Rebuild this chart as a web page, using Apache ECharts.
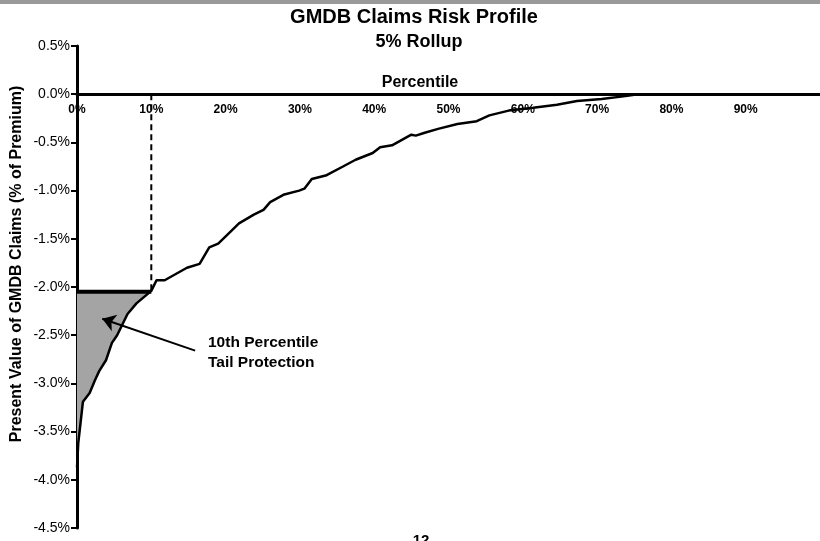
<!DOCTYPE html>
<html>
<head>
<meta charset="utf-8">
<script src="https://cdn.jsdelivr.net/npm/echarts@6/dist/echarts.min.js"></script>
<style>
html,body{margin:0;padding:0;background:#fff;}
#chart{width:820px;height:541px;}
</style>
</head>
<body>
<div id="chart"></div>
<script>
// Percentile (x, %) and present value of GMDB claims (y, % of premium)
const percentiles = [0, 0.17, 0.8, 1.7, 2.4, 3.0, 3.9, 4.7, 5.4, 6.8, 8.0, 10.0, 10.7, 11.8, 14.8, 16.5, 17.8, 19.0, 20.6, 21.8, 23.8, 25.1, 26.0, 27.9, 29.9, 30.6, 31.6, 33.6, 35.8, 37.5, 39.8, 40.8, 42.4, 45.0, 45.6, 46.8, 48.6, 51.2, 53.8, 55.5, 58.1, 61.4, 64.6, 67.3, 70.6, 73.8, 75.5, 80, 90, 100];
const claims = [-3.87, -3.62, -3.19, -3.10, -2.97, -2.87, -2.76, -2.58, -2.50, -2.28, -2.17, -2.04, -1.93, -1.93, -1.80, -1.76, -1.59, -1.55, -1.43, -1.34, -1.25, -1.20, -1.12, -1.04, -1.00, -0.98, -0.88, -0.84, -0.75, -0.68, -0.61, -0.55, -0.53, -0.42, -0.43, -0.40, -0.36, -0.31, -0.28, -0.22, -0.17, -0.14, -0.11, -0.07, -0.05, -0.02, 0, 0, 0, 0];
const xTicks = [0, 10, 20, 30, 40, 50, 60, 70, 80, 90];
const yTicks = [0.5, 0.0, -0.5, -1.0, -1.5, -2.0, -2.5, -3.0, -3.5, -4.0, -4.5];
const tailPercentile = 10;
const tailLevel = -2.05;
// Arrow annotation endpoints (percentile, value)
const arrowFrom = [15.9, -2.66];
const arrowTo = [3.4, -2.33];

const curve = percentiles.map((p, i) => [p, claims[i]]);
const tail = curve.filter(d => d[0] <= tailPercentile);

const chart = echarts.init(document.getElementById('chart'), null, {renderer: 'canvas'});
const FONT = 'Liberation Sans, Arial, Helvetica, sans-serif';
const GRID_TOP = 46, GRID_H = 482;
// x axis sits at value 0: offset from the grid top (0.5 .. -4.5 range)
const X_OFFSET = -GRID_H * (0.5 - 0) / (0.5 - (-4.5));

chart.setOption({
  animation: false,
  backgroundColor: '#ffffff',
  textStyle: {fontFamily: FONT},
  graphic: [
    {type: 'rect', left: 0, top: 0, shape: {width: 820, height: 4}, style: {fill: '#9a9a9a'}},
    {type: 'text', x: 414, y: 17, style: {text: 'GMDB Claims Risk Profile', font: 'bold 20px ' + FONT, fill: '#000', align: 'center', verticalAlign: 'middle'}},
    {type: 'text', x: 419, y: 42, style: {text: '5% Rollup', font: 'bold 18px ' + FONT, fill: '#000', align: 'center', verticalAlign: 'middle'}},
    {type: 'text', x: 420, y: 83, style: {text: 'Percentile', font: 'bold 16px ' + FONT, fill: '#000', align: 'center', verticalAlign: 'middle'}},
    {type: 'text', x: 17, y: 264, rotation: Math.PI / 2, style: {text: 'Present Value of GMDB Claims (% of Premium)', font: 'bold 16px ' + FONT, fill: '#000', align: 'center', verticalAlign: 'middle'}},
    {type: 'text', x: 208, y: 343, style: {text: '10th Percentile', font: 'bold 15.5px ' + FONT, fill: '#000', verticalAlign: 'middle'}},
    {type: 'text', x: 208, y: 363, style: {text: 'Tail Protection', font: 'bold 15.5px ' + FONT, fill: '#000', verticalAlign: 'middle'}},
    {type: 'text', x: 421, y: 533, style: {text: '12', font: 'bold 15px ' + FONT, fill: '#000', align: 'center'}}
  ],
  grid: {left: 77, top: GRID_TOP, width: 762.5, height: GRID_H, containLabel: false},
  xAxis: {
    type: 'value', min: 0, max: 100, interval: 10,
    position: 'top', offset: X_OFFSET,
    axisLine: {onZero: false, lineStyle: {color: '#000', width: 3}},
    axisTick: {show: false},
    splitLine: {show: false},
    axisLabel: {
      inside: true,
      color: '#000', fontWeight: 'bold', fontSize: 12, fontFamily: FONT, margin: 9,
      showMaxLabel: false,
      formatter: v => xTicks.indexOf(v) >= 0 ? v + '%' : ''
    }
  },
  yAxis: {
    type: 'value', min: -4.5, max: 0.5, interval: 0.5,
    axisLine: {show: true, onZero: false, lineStyle: {color: '#000', width: 3}},
    axisTick: {show: true, inside: false, length: 6, lineStyle: {color: '#000', width: 2}},
    splitLine: {show: false},
    axisLabel: {
      color: '#000', fontSize: 14, fontFamily: FONT, margin: 7,
      formatter: v => (yTicks.some(t => Math.abs(t - v) < 1e-9) ? v.toFixed(1) + '%' : '')
    }
  },
  series: [
    {
      type: 'custom', name: 'tailArea', z: 1,
      data: [[0, tailLevel]],
      encode: {x: 0, y: 1},
      renderItem: function (params, api) {
        const pts = tail.map(d => api.coord(d));
        pts.push(api.coord([tailPercentile, tailLevel]));
        pts.push(api.coord([0, tailLevel]));
        return {type: 'polygon', shape: {points: pts}, style: {fill: '#a4a4a4'}};
      }
    },
    {
      type: 'line', name: 'tailLevel', z: 3, symbol: 'none',
      data: [[0, tailLevel], [tailPercentile, tailLevel]],
      lineStyle: {color: '#000', width: 4},
      markLine: {
        silent: true, symbol: ['none', 'arrow'], symbolSize: 13,
        label: {show: false},
        lineStyle: {color: '#000', width: 2, type: 'solid'},
        data: [[{coord: arrowFrom}, {coord: arrowTo}]]
      }
    },
    {
      type: 'line', name: 'tailMarker', z: 3, symbol: 'none',
      data: [[tailPercentile, 0], [tailPercentile, tailLevel]],
      lineStyle: {color: '#000', width: 2, type: [6, 4]}
    },
    {
      type: 'line', name: 'claims', z: 4, symbol: 'none',
      data: curve,
      lineStyle: {color: '#000', width: 2.5}
    }
  ]
});
</script>
</body>
</html>
